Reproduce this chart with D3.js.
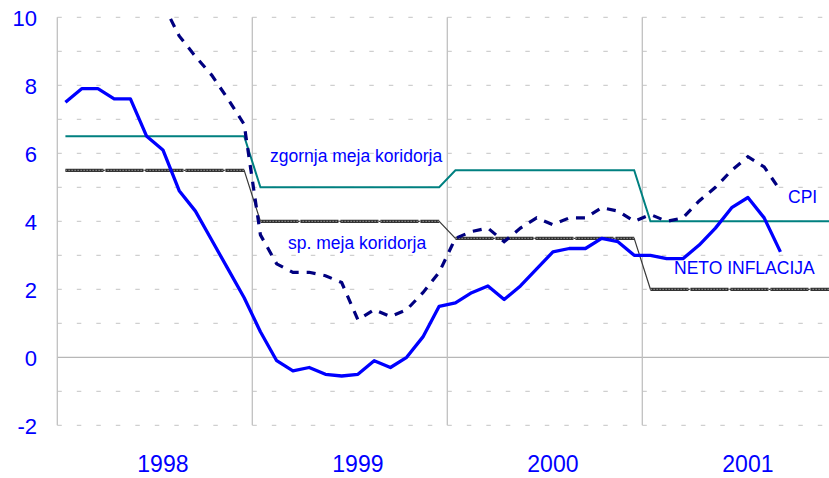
<!DOCTYPE html>
<html>
<head>
<meta charset="utf-8">
<script src="https://cdn.jsdelivr.net/npm/d3@7"></script>
<style>
  body { margin: 0; background: #fff; }
  svg { display: block; font-family: "Liberation Sans", Arial, sans-serif; }
</style>
</head>
<body>
<svg id="chart" width="829" height="478"></svg>
<script>
/* ---- data (monthly, Jan 1998 .. Dec 2001) ---- */
var years = ["1998", "1999", "2000", "2001"];
var yTicks = [-2, 0, 2, 4, 6, 8, 10];

// neto inflacija, Jan 1998 .. Sep 2001
var neto = [7.5, 7.9, 7.9, 7.6, 7.6, 6.5, 6.1, 4.9, 4.3, 3.45, 2.6, 1.75,
            0.75, -0.1, -0.4, -0.3, -0.5, -0.55, -0.5, -0.1, -0.3, 0.0, 0.6, 1.5,
            1.6, 1.9, 2.1, 1.7, 2.1, 2.6, 3.1, 3.2, 3.2, 3.5, 3.4, 3.0,
            3.0, 2.9, 2.9, 3.3, 3.8, 4.4, 4.7, 4.1, 3.1];

// CPI, first value above the chart top (clipped)
var cpi = [null, null, null, null, null, null, 10.4, 9.45, 8.85, 8.3, 7.6, 6.85,
           3.6, 2.75, 2.5, 2.5, 2.4, 2.2, 1.1, 1.4, 1.2, 1.4, 1.9, 2.5,
           3.5, 3.7, 3.8, 3.4, 3.8, 4.1, 3.9, 4.1, 4.1, 4.4, 4.3, 4.0,
           4.2, 4.0, 4.1, 4.6, 5.0, 5.5, 5.9, 5.6, 4.9];

// zgornja meja koridorja
var upper = [6.5, 6.5, 6.5, 6.5, 6.5, 6.5, 6.5, 6.5, 6.5, 6.5, 6.5, 6.5,
             5.0, 5.0, 5.0, 5.0, 5.0, 5.0, 5.0, 5.0, 5.0, 5.0, 5.0, 5.0,
             5.5, 5.5, 5.5, 5.5, 5.5, 5.5, 5.5, 5.5, 5.5, 5.5, 5.5, 5.5,
             4.0, 4.0, 4.0, 4.0, 4.0, 4.0, 4.0, 4.0, 4.0, 4.0, 4.0, 4.0];

// sp. meja koridorja
var lower = [5.5, 5.5, 5.5, 5.5, 5.5, 5.5, 5.5, 5.5, 5.5, 5.5, 5.5, 5.5,
             4.0, 4.0, 4.0, 4.0, 4.0, 4.0, 4.0, 4.0, 4.0, 4.0, 4.0, 4.0,
             3.5, 3.5, 3.5, 3.5, 3.5, 3.5, 3.5, 3.5, 3.5, 3.5, 3.5, 3.5,
             2.0, 2.0, 2.0, 2.0, 2.0, 2.0, 2.0, 2.0, 2.0, 2.0, 2.0, 2.0];

/* ---- layout ---- */
var pLeft = 57.3, pRight = 837.3, pTop = 17.3, pBottom = 425.3;
var months = d3.range(48);

var svg = d3.select("#chart");

var x = d3.scaleBand().domain(months).range([pLeft, pRight]).padding(0);
var y = d3.scaleLinear().domain([-2, 10]).range([pBottom, pTop]);
var xc = function (i) { return x(i) + x.bandwidth() / 2; };

svg.append("defs").append("clipPath").attr("id", "plot")
  .append("rect").attr("x", pLeft).attr("y", pTop)
  .attr("width", pRight - pLeft).attr("height", pBottom - pTop);

/* horizontal dashed grid, every 1; zero line solid */
svg.append("g").selectAll("line")
  .data(d3.range(-2, 11))
  .join("line")
  .attr("x1", pLeft).attr("x2", 829)
  .attr("y1", function (d) { return y(d); })
  .attr("y2", function (d) { return y(d); })
  .attr("stroke-width", 1)
  .attr("stroke-dasharray", function (d) { return d === 0 ? null : "4.5,15"; })
  .attr("stroke", function (d) { return d === 0 ? "#a6a6a6" : "#c4c4c4"; });

/* year separators + y axis line */
svg.append("g").selectAll("line")
  .data([0, 12, 24, 36])
  .join("line")
  .attr("x1", function (d) { return x(d); })
  .attr("x2", function (d) { return x(d); })
  .attr("y1", pTop).attr("y2", pBottom)
  .attr("stroke", "#c0c0c0")
  .attr("stroke-width", 1.3);

/* y tick labels */
svg.append("g").selectAll("text")
  .data(yTicks)
  .join("text")
  .attr("x", 37)
  .attr("y", function (d) { return y(d) + 9; })
  .attr("text-anchor", "end")
  .attr("fill", "#0000ff")
  .attr("font-size", 22)
  .text(function (d) { return d; });

/* year labels */
svg.append("g").selectAll("text")
  .data(years)
  .join("text")
  .attr("x", function (d, i) { return xc(i * 12 + 6); })
  .attr("y", 472)
  .attr("text-anchor", "middle")
  .attr("fill", "#0000ff")
  .attr("font-size", 23)
  .text(function (d) { return d; });

var plot = svg.append("g").attr("clip-path", "url(#plot)");

var line = d3.line()
  .defined(function (d) { return d != null; })
  .x(function (d, i) { return xc(i); })
  .y(function (d) { return y(d); });

/* lower corridor: thin step line + textured flat parts */
plot.append("path")
  .attr("d", line(lower))
  .attr("fill", "none")
  .attr("stroke", "#3a3a3a")
  .attr("stroke-width", 1.2);

var flats = [];
var start = 0;
for (var i = 1; i <= lower.length; i++) {
  if (i === lower.length || lower[i] !== lower[start]) {
    flats.push({ a: start, b: i - 1, v: lower[start] });
    start = i;
  }
}
var flatG = plot.append("g");
flatG.selectAll("line.f1").data(flats).join("line")
  .attr("class", "f1")
  .attr("x1", function (d) { return xc(d.a); })
  .attr("x2", function (d) { return xc(d.b); })
  .attr("y1", function (d) { return y(d.v); })
  .attr("y2", function (d) { return y(d.v); })
  .attr("stroke", "#333")
  .attr("stroke-width", 3.2)
  .attr("stroke-dasharray", "38,2");
flatG.selectAll("line.f2").data(flats).join("line")
  .attr("class", "f2")
  .attr("x1", function (d) { return xc(d.a); })
  .attr("x2", function (d) { return xc(d.b); })
  .attr("y1", function (d) { return y(d.v); })
  .attr("y2", function (d) { return y(d.v); })
  .attr("stroke", "#9a9a9a")
  .attr("stroke-width", 1)
  .attr("stroke-dasharray", "1.5,1.5");

/* upper corridor */
plot.append("path")
  .attr("d", line(upper))
  .attr("fill", "none")
  .attr("stroke", "#008080")
  .attr("stroke-width", 2);

/* CPI */
plot.append("path")
  .attr("d", line(cpi))
  .attr("fill", "none")
  .attr("stroke", "#000080")
  .attr("stroke-width", 3.2)
  .attr("stroke-dasharray", "9,8");

/* neto inflacija */
plot.append("path")
  .attr("d", line(neto))
  .attr("fill", "none")
  .attr("stroke", "#0000ff")
  .attr("stroke-width", 3.3)
  .attr("stroke-linejoin", "round");

/* annotations */
var notes = [
  { t: "zgornja meja koridorja", x: 270, y: 162 },
  { t: "sp. meja koridorja", x: 288, y: 249 },
  { t: "CPI", x: 788, y: 203 },
  { t: "NETO INFLACIJA", x: 674, y: 274 }
];
svg.append("g").selectAll("text")
  .data(notes)
  .join("text")
  .attr("x", function (d) { return d.x; })
  .attr("y", function (d) { return d.y; })
  .attr("fill", "#0000ff")
  .attr("font-size", 17.5)
  .text(function (d) { return d.t; });
</script>
</body>
</html>
